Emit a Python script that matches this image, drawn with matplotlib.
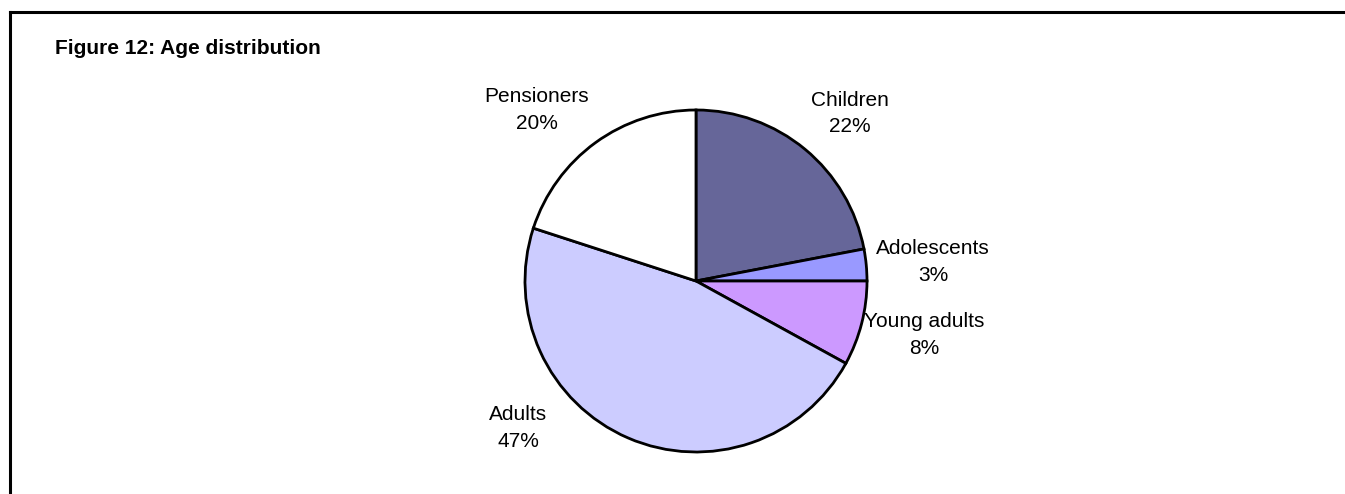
import matplotlib
matplotlib.use("Agg")
import matplotlib.pyplot as plt
from matplotlib.lines import Line2D

plt.rcParams['font.family'] = ['Liberation Sans', 'DejaVu Sans']

# age groups and their share of the population (%)
groups = ['Children', 'Adolescents', 'Young adults', 'Adults', 'Pensioners']
shares = [22, 3, 8, 47, 20]
colors = ['#666699', '#9999FF', '#CC99FF', '#CCCCFF', '#FFFFFF']

# where each label sits, in pie units (radius = 1)
label_xy = [(0.90, 0.98), (1.386, 0.111), (1.333, -0.316), (-1.041, -0.860), (-0.93, 1.0)]

W, H = 1345, 494
fig = plt.figure(figsize=(W / 100, H / 100), dpi=100)

cx, cy, r = 696, 281, 171
ax = fig.add_axes([(cx - r) / W, (H - cy - r) / H, 2 * r / W, 2 * r / H])
ax.pie(shares, colors=colors, startangle=90, counterclock=False,
       wedgeprops=dict(edgecolor='black', linewidth=2))
ax.set_xlim(-1, 1)
ax.set_ylim(-1, 1)
ax.set_aspect('equal')
ax.axis('off')

for g, s, (x, y) in zip(groups, shares, label_xy):
    ax.text(x, y, '{}\n{}%'.format(g, s), ha='center', va='center',
            fontsize=15, linespacing=1.5, clip_on=False)

fig.text(55 / W, 1 - 48 / H, 'Figure 12: Age distribution', fontsize=15,
         fontweight='bold', ha='left', va='center')

# frame around the figure
fig.add_artist(Line2D([10 / W, 10 / W], [0, 1 - 12 / H], color='black', lw=2.2))
fig.add_artist(Line2D([10 / W, 1], [1 - 12 / H, 1 - 12 / H], color='black', lw=2.2))

fig.savefig('out.png', dpi=100)
